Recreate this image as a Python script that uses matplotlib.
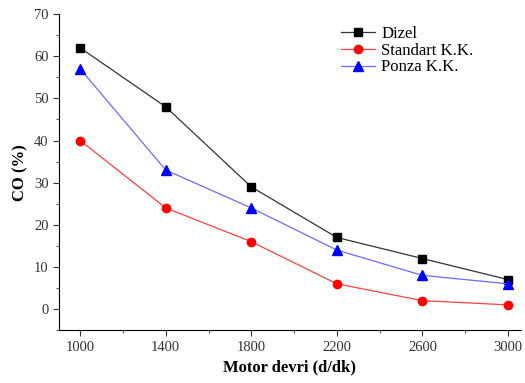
import matplotlib
matplotlib.use('Agg')
import matplotlib.pyplot as plt
from matplotlib.ticker import MultipleLocator

plt.rcParams['font.family'] = 'Liberation Serif'

devir = [1000, 1400, 1800, 2200, 2600, 3000]
dizel = [62, 48, 29, 17, 12, 7]
standart = [40, 24, 16, 6, 2, 1]
ponza = [57, 33, 24, 14, 8, 6]

fig = plt.figure(figsize=(5.25, 3.83), dpi=100)
ax = fig.add_axes([0.112, 0.138, 0.88, 0.825])

ax.plot(devir, dizel, color='#333333', lw=0.9, marker='s', ms=5.5,
        mfc='black', mec='black', label='Dizel')
ax.plot(devir, standart, color='#ff4040', lw=0.9, marker='o', ms=6,
        mfc='red', mec='red', label='Standart K.K.')
ax.plot(devir, ponza, color='#6a6aff', lw=0.9, marker='^', ms=6.5,
        mfc='blue', mec='blue', label='Ponza K.K.')

ax.set_xlim(900, 3060)
ax.set_ylim(-5, 70)
ax.set_xticks(devir)
ax.xaxis.set_minor_locator(MultipleLocator(200))
ax.yaxis.set_major_locator(MultipleLocator(10))
ax.yaxis.set_minor_locator(MultipleLocator(5))
for s in ['top', 'right']:
    ax.spines[s].set_visible(False)
ax.tick_params(which='both', direction='out', labelsize=10.5, colors='#333333')
ax.tick_params(which='major', length=4)
ax.tick_params(which='minor', length=2.5)
ax.set_xlabel('Motor devri (d/dk)', fontsize=12, fontweight='bold')
ax.set_ylabel('CO (%)', fontsize=12, fontweight='bold')

ax.legend(loc='upper left', bbox_to_anchor=(0.59, 0.995), frameon=False,
          fontsize=12, handlelength=2, handletextpad=0.4,
          labelspacing=0.05, borderaxespad=0.2)

fig.savefig('out.png', dpi=100)
